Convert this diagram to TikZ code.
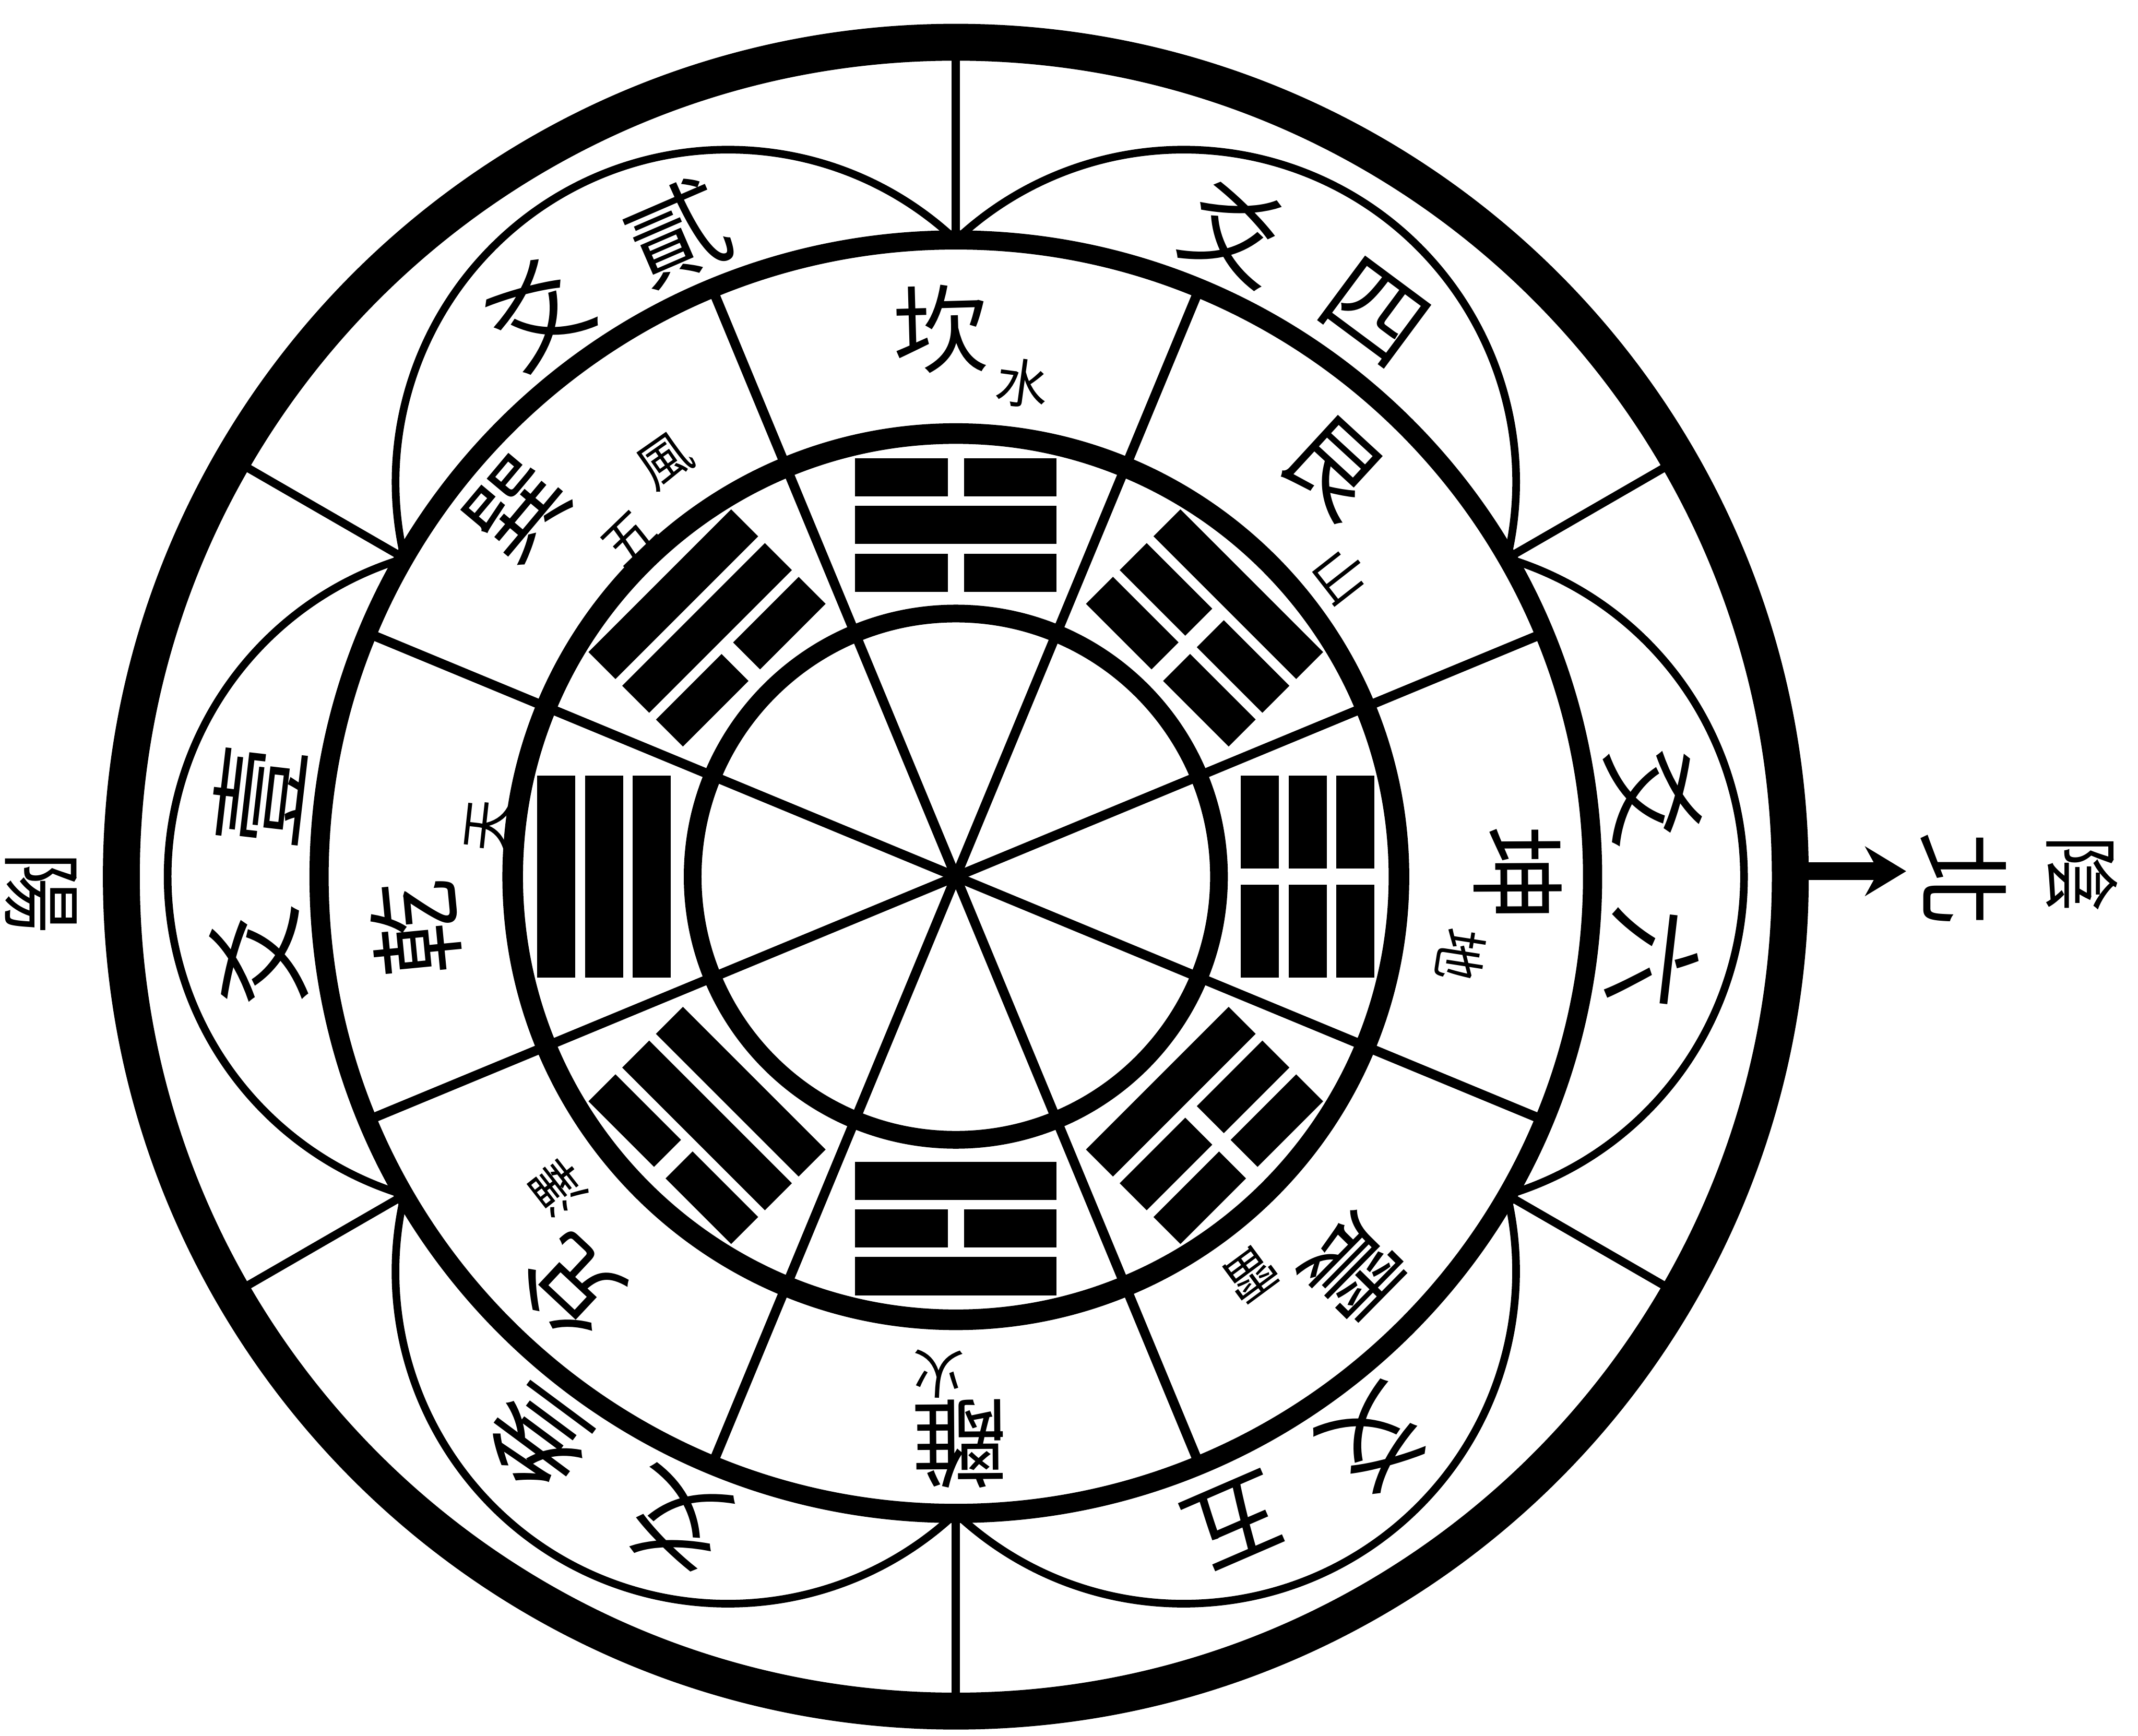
\documentclass[tikz,border=0pt]{standalone}
\usepackage{fontspec}
\newfontfamily\cjk{Noto Sans CJK TC}
\usetikzlibrary{arrows.meta}
\tikzset{
  spoke/.style={line width=2pt},
  petal/.style={line width=1.6pt},
  divider/.style={line width=1.7pt},
  bigname/.style={font=\cjk\fontsize{20}{20}\selectfont, inner sep=0pt},
  smallname/.style={font=\cjk\fontsize{11}{11}\selectfont, inner sep=0pt},
  yaolabel/.style={font=\cjk\fontsize{21}{21}\selectfont, inner sep=0pt},
  sidelabel/.style={inner sep=0pt, rotate=-90},
}
\newcommand\gyang[1]{\fill (-74,#1-14) rectangle (74,#1+14);}
\newcommand\gyin[1]{\fill (-74,#1-14) rectangle (-6,#1+14); \fill (6,#1-14) rectangle (74,#1+14);}
\newcommand\trigram[4]{\begin{scope}[rotate=#1-90] #2{223} #3{258} #4{293} \end{scope}}
\begin{document}
\begin{tikzpicture}[x=0.1mm,y=0.1mm]
\useasboundingbox (-701,-630) rectangle (867,643);
\fill[white] (-701,-630) rectangle (867,643);
\coordinate (O) at (0,0);
% spokes through the centre
\foreach \a in {22.5,67.5,...,337.5} \draw[spoke] (O) -- (\a:467);
% petals
\foreach \t in {0,60,...,300}
  \draw[petal] ([shift={(\t:334.2)}]\t-73.3:243.8) arc[start angle=\t-73.3, end angle=\t+73.3, radius=243.8];
% dividers of the outer ring
\foreach \a in {30,90,...,330} \draw[divider] (\a:467) -- (\a:612);
% circles
\draw[line width=3.7pt] (O) circle[radius=193];
\draw[line width=4.3pt] (O) circle[radius=325];
\draw[line width=4pt] (O) circle[radius=467];
\draw[line width=7.7pt] (O) circle[radius=612];
% trigrams (inner line = bottom line)
\trigram{90}{\gyin}{\gyang}{\gyin}
\trigram{45}{\gyin}{\gyin}{\gyang}
\trigram{0}{\gyin}{\gyin}{\gyin}
\trigram{-45}{\gyang}{\gyin}{\gyin}
\trigram{-90}{\gyang}{\gyin}{\gyang}
\trigram{225}{\gyang}{\gyang}{\gyin}
\trigram{180}{\gyang}{\gyang}{\gyang}
\trigram{135}{\gyin}{\gyang}{\gyang}
% trigram names
\node[bigname, rotate=1.6] (kan) at (91.6:402) {坎};
\node[smallname, rotate=-7.7] (kanw) at (82.3:365) {水};
\node[bigname, rotate=-42.6] (gen) at (47.4:408) {艮};
\node[smallname, rotate=-52] (genm) at (38:358) {山};
\node[bigname, rotate=-89.7] (kun) at (0.3:412) {坤};
\node[smallname, rotate=-98.8] (kune) at (-8.8:375) {地};
\node[bigname, rotate=-134.6] (zhen) at (-44.6:409) {震};
\node[smallname, rotate=-143.5] (zhent) at (-53.5:363) {雷};
\node[bigname, rotate=180.4] (li) at (270.4:416) {離};
\node[smallname, rotate=178] (lif) at (268:365) {火};
\node[bigname, rotate=136.9] (dui) at (226.9:412) {兌};
\node[smallname, rotate=128] (duiz) at (218:370) {澤};
\node[bigname, rotate=95.5] (qian) at (185.5:398) {乾};
\node[smallname, rotate=83.8] (qiant) at (173.8:345) {天};
\node[bigname, rotate=50] (xun) at (140:420) {巽};
\node[smallname, rotate=35] (xunf) at (125:372) {風};
\node[smallname, rotate=44] (xunw) at (134:345) {五};
% line labels in the petals
\foreach \t/\c/\n in {0/六/6, 60/四/4, 120/貳/2, 180/壹/1, 240/叁/3, 300/五/5} {
  \node[yaolabel, rotate=\t+6.6-90] (yao\n) at (\t+6.6:515) {爻};
  \node[yaolabel, rotate=\t-6.6-90] (num\n) at (\t-6.6:515) {\c};
}
% north arrow and side labels
\coordinate (arS) at (612,4);
\coordinate (arE) at (697,4);
\draw[line width=3.7pt, -{Stealth[length=3mm, width=3.6mm]}] (arS) -- (arE);
\node[sidelabel, font=\cjk\fontsize{20}{20}\selectfont] (bei) at (739,-2) {北};
\node[sidelabel, font=\cjk\fontsize{16}{16}\selectfont] (yin) at (826,2) {陰};
\node[sidelabel, font=\cjk\fontsize{17}{17}\selectfont] (yang) at (-671,-12) {陽};
\end{tikzpicture}
\end{document}
